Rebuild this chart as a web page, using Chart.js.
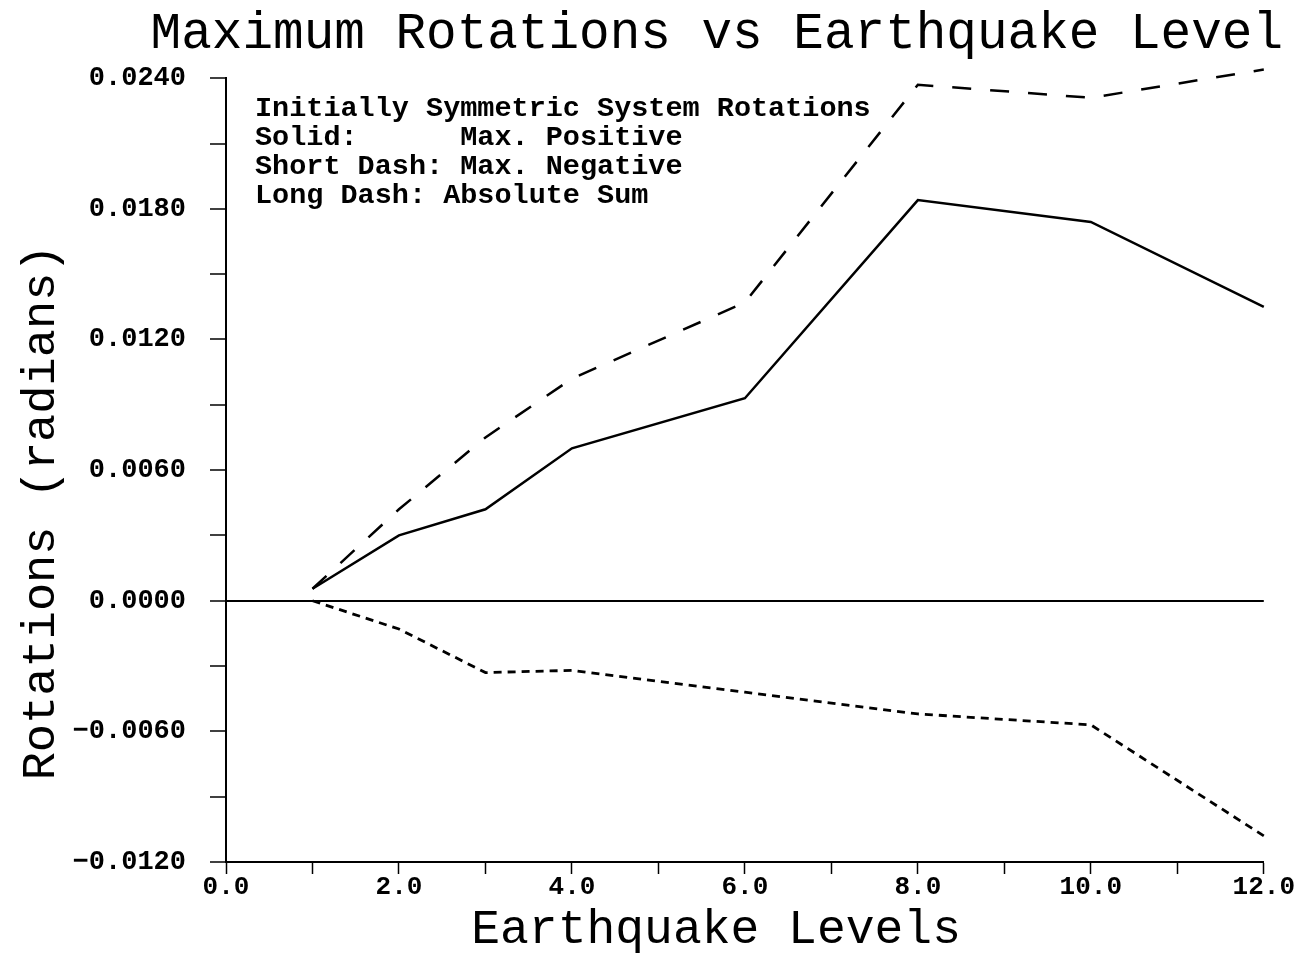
<!DOCTYPE html>
<html>
<head>
<meta charset="utf-8">
<script src="https://cdn.jsdelivr.net/npm/chart.js@4.4.1/dist/chart.umd.min.js"></script>
<style>
html,body{margin:0;padding:0;background:#fff;}
#wrap{width:1295px;height:958px;}
</style>
</head>
<body>
<div id="wrap"><canvas id="c" width="1295" height="958"></canvas></div>
<script>
const chartTitle = 'Maximum Rotations vs Earthquake Level';
const xTitle = 'Earthquake Levels  ';
const yTitle = 'Rotations (radians)   ';
const levels = [1, 2, 3, 4, 6, 8, 10, 12];
const maxPositive = [0.00055, 0.0030, 0.0042, 0.0070, 0.0093, 0.0184, 0.0174, 0.0135];
const maxNegative = [0.0000, -0.0013, -0.0033, -0.0032, -0.0042, -0.0052, -0.0057, -0.0108];
const absoluteSum = [0.00055, 0.0042, 0.0075, 0.0102, 0.0137, 0.0237, 0.0231, 0.0244];
const legendLines = [
  'Initially Symmetric System Rotations',
  'Solid:      Max. Positive',
  'Short Dash: Max. Negative',
  'Long Dash: Absolute Sum'
];
const xMin = 0, xMax = 12, xStep = 1;
const yMin = -0.012, yMax = 0.024, yStep = 0.003;

const FONT = '"Liberation Mono", monospace';
Chart.defaults.font.family = FONT;
Chart.defaults.color = '#000';

function pts(ys){ return levels.map((x,i)=>({x:x, y:ys[i]})); }

const legendText = {
  id: 'legendText',
  afterDraw(chart){
    const ctx = chart.ctx, a = chart.chartArea;
    ctx.save();
    ctx.fillStyle = '#000';
    ctx.font = 'bold 28.5px ' + FONT;
    ctx.textBaseline = 'middle';
    legendLines.forEach((t,i)=>{ ctx.fillText(t, a.left + 29, a.top + 31 + i*29); });
    ctx.restore();
  }
};

new Chart(document.getElementById('c'), {
  type: 'scatter',
  data: {
    datasets: [
      { label: 'Max. Positive', data: pts(maxPositive), showLine: true, clip: false, borderColor: '#000', borderWidth: 2.5, pointRadius: 0, tension: 0 },
      { label: 'Max. Negative', data: pts(maxNegative), showLine: true, clip: false, borderColor: '#000', borderWidth: 2.8, borderDash: [8, 6], pointRadius: 0, tension: 0 },
      { label: 'Absolute Sum', data: pts(absoluteSum), showLine: true, clip: false, borderColor: '#000', borderWidth: 2.5, borderDash: [19, 19], pointRadius: 0, tension: 0 }
    ]
  },
  options: {
    responsive: false,
    animation: false,
    layout: { padding: { left: 18, right: 12, top: 4, bottom: 0 } },
    plugins: {
      legend: { display: false },
      tooltip: { enabled: false },
      title: { display: true, text: chartTitle, align: 'end', font: { size: 51, weight: 'normal' }, color: '#000', padding: { top: 0, bottom: 13 } }
    },
    scales: {
      x: {
        type: 'linear', min: xMin, max: xMax,
        afterFit: s => { s.height = 96; },
        border: { display: true, color: '#000', width: 2 },
        grid: { display: true, drawOnChartArea: false, drawTicks: true, tickLength: 12, tickColor: '#000', tickWidth: 1.5 },
        ticks: { stepSize: xStep, autoSkip: false, maxRotation: 0, padding: 0, font: { size: 26, weight: 'bold', lineHeight: 1.0 },
          callback: v => (Math.round(v) % 2 === 0 ? Number(v).toFixed(1) : '') },
        title: { display: true, text: xTitle, font: { size: 48, lineHeight: 1.0 }, padding: { top: 4, bottom: 4 } }
      },
      y: {
        type: 'linear', min: yMin, max: yMax,
        afterFit: s => { s.width = 208; },
        border: { display: true, color: '#000', width: 2 },
        grid: { display: true, drawOnChartArea: true, drawTicks: true, tickLength: 16, tickColor: '#000', tickWidth: 1.5,
          color: c => (c.tick && Math.abs(c.tick.value) < 1e-9 ? '#000' : 'rgba(0,0,0,0)'), lineWidth: 2 },
        ticks: { stepSize: yStep, autoSkip: false, maxTicksLimit: 30, padding: 24, font: { size: 27, weight: 'bold' },
          callback: v => (Math.abs(Math.round(v / yStep)) % 2 === 0 ? Number(v).toFixed(4).replace('-', '\u2212') : '') },
        title: { display: true, text: yTitle, font: { size: 47, lineHeight: 1.0 }, padding: { top: 0, bottom: 2 } }
      }
    }
  },
  plugins: [legendText]
});
</script>
</body>
</html>
